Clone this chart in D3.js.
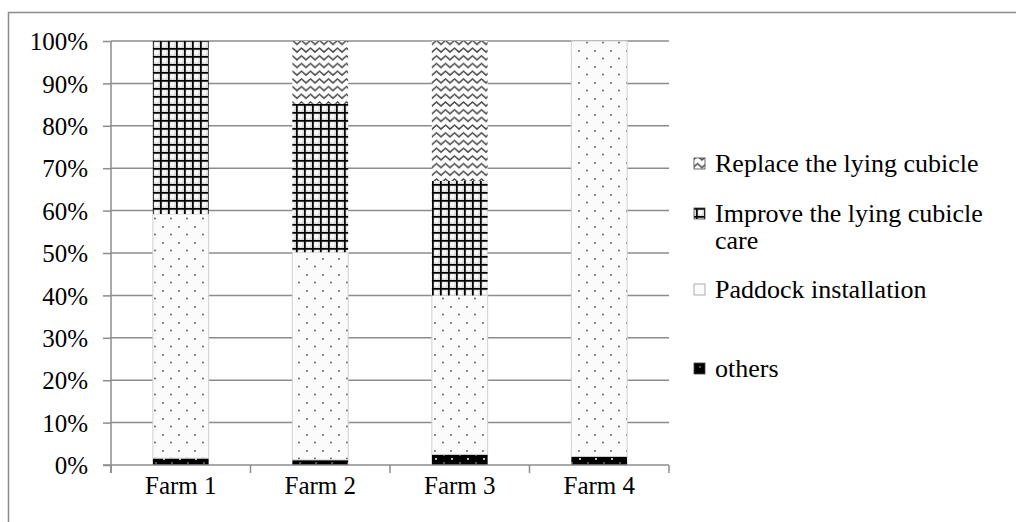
<!DOCTYPE html>
<html>
<head>
<meta charset="utf-8">
<style>
  body { margin: 0; background: #fff; }
  svg text { font-family: "Liberation Serif", "DejaVu Serif", serif; fill: #000; }
</style>
</head>
<body>
<svg id="chart" width="1016" height="522"></svg>
<script src="https://cdn.jsdelivr.net/npm/d3@7"></script>
<script>
// data (percent of farm total)
var categories = ["Farm 1", "Farm 2", "Farm 3", "Farm 4"];
var others  = [1.6, 1.2, 2.5, 2.0];
var paddock = [57.6, 49.0, 37.5, 98.0];
var improve = [40.8, 35.0, 27.0, 0];
var replace = [0, 14.8, 33.0, 0];
var yTicks = [0, 10, 20, 30, 40, 50, 60, 70, 80, 90, 100];

var seriesNames = ["others", "Paddock installation", "Improve the lying cubicle care", "Replace the lying cubicle"];
var seriesValues = [others, paddock, improve, replace];
var patternIds = ["pOthers", "pPaddock", "pImprove", "pReplace"];

var serif = "Liberation Serif, DejaVu Serif, serif";
var svg = d3.select("#chart");

// outer frame (only left/top edges visible in the picture)
svg.append("rect")
    .attr("x", 8.5).attr("y", 12.5)
    .attr("width", 1100).attr("height", 600)
    .attr("fill", "none")
    .attr("stroke", "#8c8c8c")
    .attr("stroke-width", 1.5);

// patterns
var defs = svg.append("defs");

var pO = defs.append("pattern").attr("id", "pOthers")
    .attr("patternUnits", "userSpaceOnUse").attr("width", 16).attr("height", 8);
pO.append("rect").attr("width", 16).attr("height", 8).attr("fill", "#000");
pO.append("circle").attr("cx", 4).attr("cy", 3).attr("r", 1).attr("fill", "#fff");
pO.append("circle").attr("cx", 12).attr("cy", 7).attr("r", 0.8).attr("fill", "#bbb");

var pP = defs.append("pattern").attr("id", "pPaddock")
    .attr("patternUnits", "userSpaceOnUse").attr("width", 16).attr("height", 16);
pP.append("rect").attr("width", 16).attr("height", 16).attr("fill", "#fbfbfb");
pP.append("circle").attr("cx", 3).attr("cy", 3).attr("r", 0.9).attr("fill", "#555");
pP.append("circle").attr("cx", 11).attr("cy", 10.5).attr("r", 0.9).attr("fill", "#555");

var pI = defs.append("pattern").attr("id", "pImprove")
    .attr("patternUnits", "userSpaceOnUse").attr("width", 8).attr("height", 8);
pI.append("rect").attr("width", 8).attr("height", 8).attr("fill", "#d8d8d8");
pI.append("rect").attr("x", 2.5).attr("y", 2.5).attr("width", 4).attr("height", 4).attr("fill", "#fff");
pI.append("rect").attr("x", 0).attr("y", 0).attr("width", 1.7).attr("height", 8).attr("fill", "#000");
pI.append("rect").attr("x", 0).attr("y", 0).attr("width", 8).attr("height", 1.7).attr("fill", "#000");

var pR = defs.append("pattern").attr("id", "pReplace")
    .attr("patternUnits", "userSpaceOnUse").attr("width", 9).attr("height", 7.7);
pR.append("rect").attr("width", 9).attr("height", 7.7).attr("fill", "#fff");
pR.append("path").attr("d", "M-1,4.9 L0,5.9 L4.5,1.9 L9,5.9 L10,4.9")
    .attr("fill", "none").attr("stroke", "#4a4a4a").attr("stroke-width", 1.5);

// scales
var plotLeft = 111, plotRight = 669, plotTop = 41, plotBottom = 465;
var x = d3.scaleBand().domain(categories).range([plotLeft, plotRight]).paddingInner(0.6).paddingOuter(0.3);
var y = d3.scaleLinear().domain([0, 100]).range([plotBottom, plotTop]);

// gridlines
svg.append("g").selectAll("line")
    .data(yTicks.filter(function (d) { return d > 0; }))
    .enter().append("line")
    .attr("x1", plotLeft).attr("x2", plotRight)
    .attr("y1", function (d) { return y(d); })
    .attr("y2", function (d) { return y(d); })
    .attr("stroke", "#8c8c8c").attr("stroke-width", 1.5);

// stacked bars
var stackData = categories.map(function (c, i) {
    var row = { cat: c };
    seriesNames.forEach(function (s, k) { row[s] = seriesValues[k][i]; });
    return row;
});
var stacked = d3.stack().keys(seriesNames)(stackData);

stacked.forEach(function (layer, k) {
    svg.append("g").selectAll("rect")
        .data(layer.filter(function (d) { return d[1] - d[0] > 0; }))
        .enter().append("rect")
        .attr("x", function (d) { return x(d.data.cat); })
        .attr("width", x.bandwidth())
        .attr("y", function (d) { return y(d[1]); })
        .attr("height", function (d) { return y(d[0]) - y(d[1]); })
        .attr("fill", "url(#" + patternIds[k] + ")")
        .attr("stroke", k === 1 ? "#d0d0d0" : "none")
        .attr("stroke-width", 1);
});

// y axis
var yAxis = d3.axisLeft(y).tickValues(yTicks).tickSize(8).tickPadding(8)
    .tickFormat(function (d) { return d + "%"; });
var gy = svg.append("g").attr("transform", "translate(" + plotLeft + ",0)").call(yAxis);
gy.attr("font-family", serif);
gy.select(".domain").attr("stroke", "#8c8c8c").attr("stroke-width", 1.5)
    .attr("d", "M0," + (plotBottom + 8) + "V" + plotTop);
gy.selectAll(".tick line").attr("stroke", "#8c8c8c").attr("stroke-width", 1.5);
gy.selectAll(".tick text").style("font-size", "25px")
    .attr("font-family", serif).attr("fill", "#000")
    .attr("dy", "0.35em").attr("x", -23);

// x axis
var gx = svg.append("g").attr("transform", "translate(0," + plotBottom + ")");
gx.append("line").attr("x1", plotLeft - 8).attr("x2", plotRight)
    .attr("y1", 0).attr("y2", 0)
    .attr("stroke", "#8c8c8c").attr("stroke-width", 1.5);
var bounds = d3.range(categories.length + 1).map(function (i) {
    return plotLeft + i * (plotRight - plotLeft) / categories.length;
});
gx.selectAll(".sep").data(bounds).enter().append("line")
    .attr("x1", function (d) { return d; }).attr("x2", function (d) { return d; })
    .attr("y1", 0).attr("y2", 8)
    .attr("stroke", "#8c8c8c").attr("stroke-width", 1.5);
gx.selectAll(".lab").data(categories).enter().append("text")
    .attr("x", function (d) { return x(d) + x.bandwidth() / 2; })
    .attr("y", 29)
    .attr("text-anchor", "middle")
    .attr("font-family", serif)
    .style("font-size", "25px")
    .text(function (d) { return d; });

// legend
var legendItems = [
    { pat: "pReplace", lines: ["Replace the lying cubicle"], y: 163 },
    { pat: "pImprove", lines: ["Improve the lying cubicle", "care"], y: 213 },
    { pat: "pPaddock", lines: ["Paddock installation"], y: 289 },
    { pat: "pOthers", lines: ["others"], y: 368 }
];
var lg = svg.append("g");
legendItems.forEach(function (it) {
    lg.append("rect")
        .attr("x", 694).attr("y", it.y - 5)
        .attr("width", 11).attr("height", 11)
        .attr("fill", "url(#" + it.pat + ")")
        .attr("stroke", it.pat === "pPaddock" ? "#999" : "#444")
        .attr("stroke-width", 0.8);
    it.lines.forEach(function (t, j) {
        lg.append("text")
            .attr("x", 715).attr("y", it.y + j * 27)
            .attr("dy", "0.35em")
            .attr("font-family", serif)
            .style("font-size", "26px")
            .text(t);
    });
});
</script>
</body>
</html>
